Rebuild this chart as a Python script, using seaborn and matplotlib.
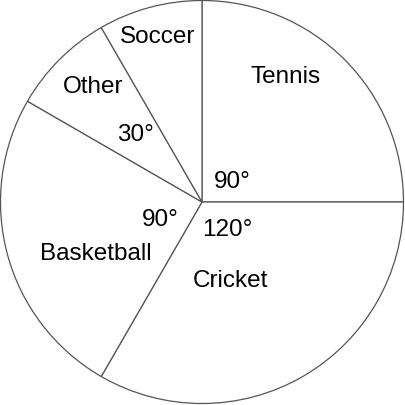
import matplotlib
matplotlib.use("Agg")
import matplotlib.pyplot as plt
import seaborn as sns

# Data
sports = ["Tennis", "Cricket", "Basketball", "Other", "Soccer"]
degrees = [90, 120, 90, 30, 30]
angle_labels = ["90°", "120°", "90°", "30°", None]

# label placement in pixel coords of the 405x405 image (x center, baseline y)
name_pos = [(285.7, 82.7), (230.3, 287.3), (96.3, 260), (93.3, 92.7), (157.5, 43.3)]
angle_pos = [(232, 188.3), (227.8, 236), (160, 226), (135, 141), None]

sns.set_theme(style="white")
plt.rcParams["font.family"] = ["Liberation Sans", "DejaVu Sans"]

fig = plt.figure(figsize=(4.05, 4.05), dpi=100)
ax = fig.add_axes([0, 0, 1, 1])

cx, cy, r = 202.0, 202.0, 201.5
ax.pie(degrees, startangle=90, counterclock=False, radius=1.0,
       colors=["white"] * len(degrees),
       wedgeprops=dict(edgecolor="#555555", linewidth=0.9))


def px(x, y):
    return (x - cx) / r, (cy - y) / r


for name, p in zip(sports, name_pos):
    x, y = px(*p)
    ax.text(x, y, name, ha="center", va="baseline", fontsize=17.5, color="black")

for lab, p in zip(angle_labels, angle_pos):
    if lab is None:
        continue
    x, y = px(*p)
    ax.text(x, y, lab, ha="center", va="baseline", fontsize=17.5, color="black")

ax.set_xlim(-cx / r, (405 - cx) / r)
ax.set_ylim(-(405 - cy) / r, cy / r)
ax.set_aspect("equal")
ax.axis("off")

fig.savefig("out.png", dpi=100, facecolor="white")
